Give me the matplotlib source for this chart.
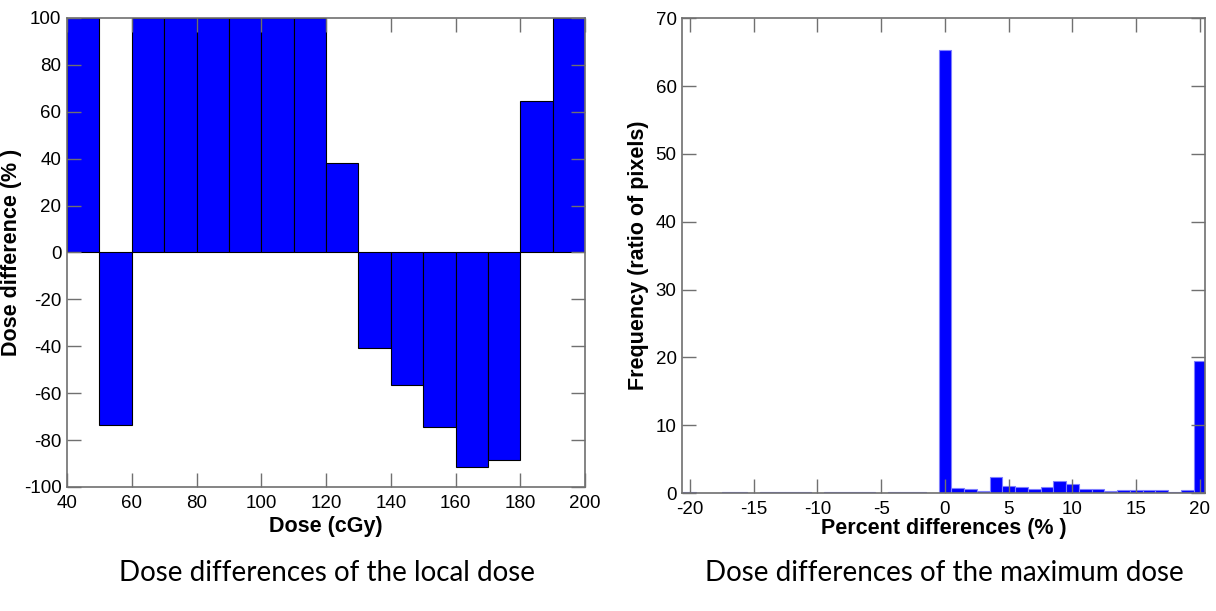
import numpy as np
import matplotlib.pyplot as plt

# left panel: local dose differences per 10 cGy bin
dose_edges = [40, 50, 60, 70, 80, 90, 100, 110, 120, 130, 140, 150, 160, 170, 180, 190]
dose_diff = [100, -73.5, 100, 100, 100, 100, 100, 100, 38.3, -40.8, -56.5, -74.5, -91.5, -88.5, 64.5, 100]

# right panel: histogram of percent differences (bin centres -20..20)
pct_bins = list(range(-20, 21))
pct_freq = [0.15, 0, 0, 0.1, 0.1, 0, 0.1, 0.1, 0.1, 0.1,
            0, 0.1, 0.1, 0.1, 0.1, 0, 0.2, 0.2, 0.2, 0,
            65.4, 0.8, 0.55, 0.25, 2.4, 1.0, 0.9, 0.55, 0.9, 1.75,
            1.4, 0.55, 0.55, 0.25, 0.5, 0.5, 0.4, 0.5, 0.15, 0.4,
            19.5]

captions = ["Dose differences of the local dose", "Dose differences of the maximum dose"]

plt.rcParams['font.family'] = ['Liberation Sans', 'DejaVu Sans']
plt.rcParams['axes.unicode_minus'] = False


def style_axes(ax):
    for s in ax.spines.values():
        s.set_color('#707070')
        s.set_linewidth(1.2)
    ax.tick_params(direction='in', length=10, width=1, color='#707070',
                   top=True, right=True, labelsize=13.5)
    ax.tick_params(axis='x', pad=6)
    ax.tick_params(axis='y', pad=4)


def main():
    fig = plt.figure(figsize=(12.16, 6.11), dpi=100)

    ax1 = fig.add_axes([0.0551, 0.203, 0.426, 0.7676])
    ax1.bar(dose_edges, dose_diff, width=10, align='edge', color='#0000ff',
            edgecolor='black', linewidth=0.8)
    ax1.set_xlim(40, 200)
    ax1.set_ylim(-100, 100)
    ax1.set_xticks(np.arange(40, 201, 20))
    ax1.set_yticks(np.arange(-100, 101, 20))
    style_axes(ax1)
    ax1.set_xlabel("Dose (cGy)", fontsize=15.5, fontweight='bold', labelpad=3)
    ax1.set_ylabel("Dose difference (% )", fontsize=15.5, fontweight='bold', labelpad=1)

    ax2 = fig.add_axes([0.561, 0.193, 0.430, 0.777])
    ax2.bar(pct_bins, pct_freq, width=1, color='#0000ff',
            edgecolor='#7f7fff', linewidth=0.8)
    ax2.set_xlim(-20.6, 20.4)
    ax2.set_ylim(0, 70)
    ax2.set_xticks(np.arange(-20, 21, 5))
    ax2.set_yticks(np.arange(0, 71, 10))
    style_axes(ax2)
    ax2.set_xlabel("Percent differences (% )", fontsize=15.5, fontweight='bold', labelpad=0)
    ax2.set_ylabel("Frequency (ratio of pixels)", fontsize=15.5, fontweight='bold', labelpad=5)

    fig.text(0.269, 0.063, captions[0], ha='center', va='center',
             fontsize=20, family=['Lato', 'DejaVu Sans'])
    fig.text(0.777, 0.063, captions[1], ha='center', va='center',
             fontsize=20, family=['Lato', 'DejaVu Sans'])

    plt.savefig("out.png", dpi=100)


if __name__ == "__main__":
    main()
